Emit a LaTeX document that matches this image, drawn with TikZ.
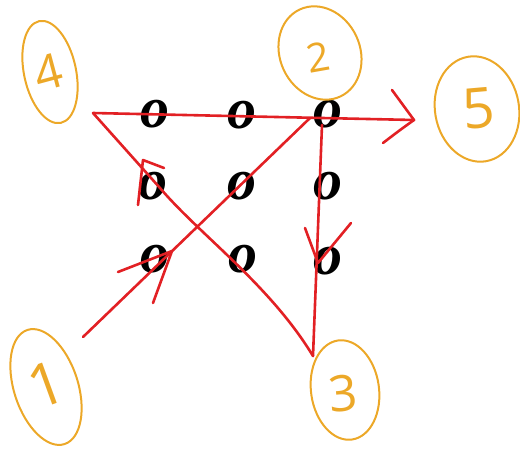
\documentclass[tikz,border=0pt]{standalone}
\usepackage{fontspec}
\setmainfont{Liberation Serif}
\newfontfamily\handfont{Open Sans}
\definecolor{pen}{RGB}{226,32,36}
\definecolor{hilite}{RGB}{236,168,40}
\begin{document}
\begin{tikzpicture}[x=1pt,y=-1pt,
  dotmark/.style={font=\fontsize{58}{58}\selectfont\bfseries\itshape, inner sep=0pt, text=black},
  ring/.style={draw=hilite, line width=2pt},
  numlabel/.style={text=hilite, font=\handfont\fontsize{48}{48}\selectfont, inner sep=0pt},
  stroke/.style={draw=pen, line width=2.6pt, line cap=round, line join=round}]
\useasboundingbox (0,0) rectangle (520,450);
% dots
\node[dotmark] (d11) at (155,114) {o};
\node[dotmark] (d12) at (242,115) {o};
\node[dotmark] (d13) at (328,114) {o};
\node[dotmark] (d21) at (153,186) {o};
\node[dotmark] (d22) at (242,186) {o};
\node[dotmark] (d23) at (328,186) {o};
\node[dotmark] (d31) at (155,259) {o};
\node[dotmark] (d32) at (243,259) {o};
\node[dotmark] (d33) at (328,261) {o};
% labels
\draw[ring, rotate around={12:(50,72)}] (50,72) ellipse (26 and 52);
\node[numlabel, rotate=15] (l4) at (48,72) {4};
\draw[ring, rotate around={25:(320,53)}] (320,53) ellipse (40 and 48);
\node[numlabel, rotate=10, font=\handfont\fontsize{40}{40}\selectfont] (l2) at (318,57) {2};
\draw[ring, rotate around={10:(477,109)}] (477,109) ellipse (42 and 53);
\node[numlabel, rotate=5, font=\handfont\fontsize{56}{56}\selectfont] (l5) at (479,108) {5};
\draw[ring, rotate around={18:(46,387)}] (46,387) ellipse (32 and 60);
\node[numlabel, rotate=20, font=\handfont\fontsize{60}{60}\selectfont] (l1) at (46,385) {1};
\draw[ring, rotate around={8:(345,390)}] (345,390) ellipse (34 and 50);
\node[numlabel, rotate=5, font=\handfont\fontsize{50}{50}\selectfont] (l3) at (343,393) {3};
% path points
\coordinate (p1) at (83,337);
\coordinate (p2) at (310,118);
\coordinate (p2b) at (322,125);
\coordinate (p3) at (313,356);
\coordinate (p4) at (93,113);
\coordinate (p5) at (414,120);
\draw[stroke] (p1) -- (p2);
\draw[stroke] (p2b) -- (p3);
\draw[stroke] (p3) .. controls (270,285) and (200,235) .. (160,188) -- (p4);
\draw[stroke] (p4) -- (p5);
% arrowheads
\coordinate (a1) at (172,251);
\draw[stroke] (118,272) -- (a1) -- (153,303);
\coordinate (a2) at (318,263);
\draw[stroke] (305,228) -- (a2) -- (351,223);
\coordinate (a3) at (143,160);
\draw[stroke] (138,205) -- (a3) -- (164,168);
\draw[stroke] (392,90) -- (p5) .. controls (400,130) .. (383,143);
\end{tikzpicture}
\end{document}
